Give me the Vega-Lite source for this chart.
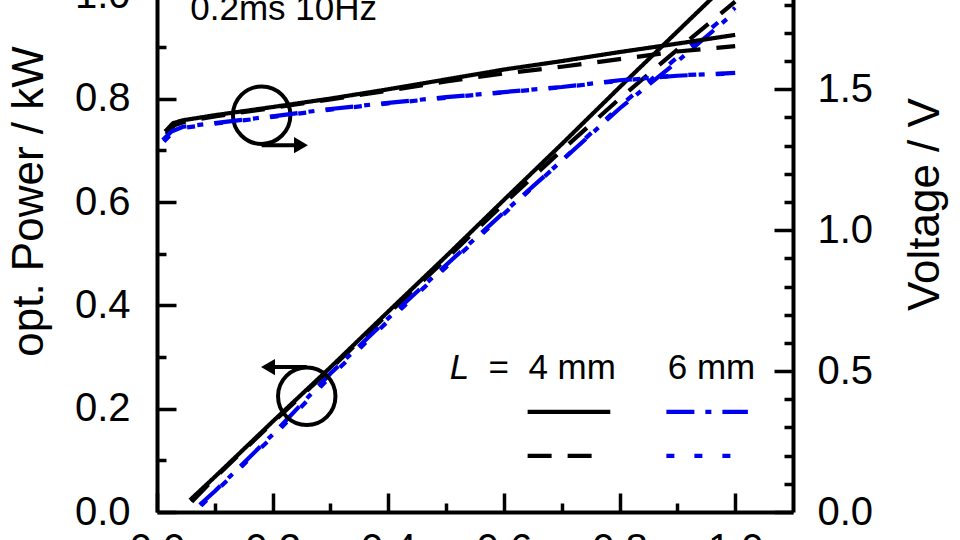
{
  "$schema": "https://vega.github.io/schema/vega-lite/v6.json",
  "width": 636,
  "height": 620,
  "autosize": "none",
  "padding": {"left": 157, "top": -108, "right": 167, "bottom": 28},
  "background": "white",
  "datasets": {
    "curves": [
      {"s": "4 mm a", "q": "P", "x": 0.057, "y": 0.023},
      {"s": "4 mm a", "q": "P", "x": 0.1, "y": 0.068},
      {"s": "4 mm a", "q": "P", "x": 0.2, "y": 0.175},
      {"s": "4 mm a", "q": "P", "x": 0.3, "y": 0.28},
      {"s": "4 mm a", "q": "P", "x": 0.4, "y": 0.388},
      {"s": "4 mm a", "q": "P", "x": 0.5, "y": 0.495},
      {"s": "4 mm a", "q": "P", "x": 0.6, "y": 0.604},
      {"s": "4 mm a", "q": "P", "x": 0.7, "y": 0.712},
      {"s": "4 mm a", "q": "P", "x": 0.8, "y": 0.822},
      {"s": "4 mm a", "q": "P", "x": 0.9, "y": 0.93},
      {"s": "4 mm a", "q": "P", "x": 1.0, "y": 1.038},
      {"s": "4 mm b", "q": "P", "x": 0.06, "y": 0.02},
      {"s": "4 mm b", "q": "P", "x": 0.1, "y": 0.066},
      {"s": "4 mm b", "q": "P", "x": 0.2, "y": 0.173},
      {"s": "4 mm b", "q": "P", "x": 0.3, "y": 0.277},
      {"s": "4 mm b", "q": "P", "x": 0.4, "y": 0.384},
      {"s": "4 mm b", "q": "P", "x": 0.5, "y": 0.49},
      {"s": "4 mm b", "q": "P", "x": 0.6, "y": 0.597},
      {"s": "4 mm b", "q": "P", "x": 0.7, "y": 0.7},
      {"s": "4 mm b", "q": "P", "x": 0.8, "y": 0.8},
      {"s": "4 mm b", "q": "P", "x": 0.9, "y": 0.895},
      {"s": "4 mm b", "q": "P", "x": 1.0, "y": 0.988},
      {"s": "6 mm a", "q": "P", "x": 0.074, "y": 0.014},
      {"s": "6 mm a", "q": "P", "x": 0.1, "y": 0.04},
      {"s": "6 mm a", "q": "P", "x": 0.2, "y": 0.15},
      {"s": "6 mm a", "q": "P", "x": 0.3, "y": 0.268},
      {"s": "6 mm a", "q": "P", "x": 0.4, "y": 0.375},
      {"s": "6 mm a", "q": "P", "x": 0.5, "y": 0.478},
      {"s": "6 mm a", "q": "P", "x": 0.6, "y": 0.58},
      {"s": "6 mm a", "q": "P", "x": 0.7, "y": 0.68},
      {"s": "6 mm a", "q": "P", "x": 0.8, "y": 0.781},
      {"s": "6 mm a", "q": "P", "x": 0.9, "y": 0.872},
      {"s": "6 mm a", "q": "P", "x": 1.0, "y": 0.968},
      {"s": "6 mm b", "q": "P", "x": 0.076, "y": 0.012},
      {"s": "6 mm b", "q": "P", "x": 0.1, "y": 0.038},
      {"s": "6 mm b", "q": "P", "x": 0.2, "y": 0.146},
      {"s": "6 mm b", "q": "P", "x": 0.3, "y": 0.262},
      {"s": "6 mm b", "q": "P", "x": 0.4, "y": 0.37},
      {"s": "6 mm b", "q": "P", "x": 0.5, "y": 0.474},
      {"s": "6 mm b", "q": "P", "x": 0.6, "y": 0.577},
      {"s": "6 mm b", "q": "P", "x": 0.7, "y": 0.68},
      {"s": "6 mm b", "q": "P", "x": 0.8, "y": 0.785},
      {"s": "6 mm b", "q": "P", "x": 0.9, "y": 0.88},
      {"s": "6 mm b", "q": "P", "x": 1.0, "y": 0.976},
      {"s": "4 mm a", "q": "V", "x": 0.014, "y": 1.35},
      {"s": "4 mm a", "q": "V", "x": 0.028, "y": 1.38},
      {"s": "4 mm a", "q": "V", "x": 0.045, "y": 1.39},
      {"s": "4 mm a", "q": "V", "x": 0.1, "y": 1.408},
      {"s": "4 mm a", "q": "V", "x": 0.2, "y": 1.437},
      {"s": "4 mm a", "q": "V", "x": 0.3, "y": 1.467},
      {"s": "4 mm a", "q": "V", "x": 0.4, "y": 1.5},
      {"s": "4 mm a", "q": "V", "x": 0.5, "y": 1.535},
      {"s": "4 mm a", "q": "V", "x": 0.6, "y": 1.57},
      {"s": "4 mm a", "q": "V", "x": 0.7, "y": 1.6},
      {"s": "4 mm a", "q": "V", "x": 0.8, "y": 1.632},
      {"s": "4 mm a", "q": "V", "x": 0.9, "y": 1.662},
      {"s": "4 mm a", "q": "V", "x": 1.0, "y": 1.693},
      {"s": "4 mm b", "q": "V", "x": 0.016, "y": 1.34},
      {"s": "4 mm b", "q": "V", "x": 0.03, "y": 1.372},
      {"s": "4 mm b", "q": "V", "x": 0.05, "y": 1.386},
      {"s": "4 mm b", "q": "V", "x": 0.1, "y": 1.404},
      {"s": "4 mm b", "q": "V", "x": 0.2, "y": 1.434},
      {"s": "4 mm b", "q": "V", "x": 0.3, "y": 1.464},
      {"s": "4 mm b", "q": "V", "x": 0.4, "y": 1.495},
      {"s": "4 mm b", "q": "V", "x": 0.5, "y": 1.528},
      {"s": "4 mm b", "q": "V", "x": 0.6, "y": 1.556},
      {"s": "4 mm b", "q": "V", "x": 0.7, "y": 1.58},
      {"s": "4 mm b", "q": "V", "x": 0.8, "y": 1.607},
      {"s": "4 mm b", "q": "V", "x": 0.9, "y": 1.634},
      {"s": "4 mm b", "q": "V", "x": 1.0, "y": 1.653},
      {"s": "6 mm a", "q": "V", "x": 0.01, "y": 1.32},
      {"s": "6 mm a", "q": "V", "x": 0.025, "y": 1.35},
      {"s": "6 mm a", "q": "V", "x": 0.045, "y": 1.367},
      {"s": "6 mm a", "q": "V", "x": 0.1, "y": 1.38},
      {"s": "6 mm a", "q": "V", "x": 0.2, "y": 1.404},
      {"s": "6 mm a", "q": "V", "x": 0.3, "y": 1.43},
      {"s": "6 mm a", "q": "V", "x": 0.4, "y": 1.452},
      {"s": "6 mm a", "q": "V", "x": 0.5, "y": 1.472},
      {"s": "6 mm a", "q": "V", "x": 0.6, "y": 1.49},
      {"s": "6 mm a", "q": "V", "x": 0.7, "y": 1.508},
      {"s": "6 mm a", "q": "V", "x": 0.8, "y": 1.532},
      {"s": "6 mm a", "q": "V", "x": 0.9, "y": 1.548},
      {"s": "6 mm a", "q": "V", "x": 1.0, "y": 1.558},
      {"s": "6 mm b", "q": "V", "x": 0.012, "y": 1.315},
      {"s": "6 mm b", "q": "V", "x": 0.03, "y": 1.352},
      {"s": "6 mm b", "q": "V", "x": 0.05, "y": 1.364},
      {"s": "6 mm b", "q": "V", "x": 0.1, "y": 1.378},
      {"s": "6 mm b", "q": "V", "x": 0.2, "y": 1.402},
      {"s": "6 mm b", "q": "V", "x": 0.3, "y": 1.428},
      {"s": "6 mm b", "q": "V", "x": 0.4, "y": 1.45},
      {"s": "6 mm b", "q": "V", "x": 0.5, "y": 1.47},
      {"s": "6 mm b", "q": "V", "x": 0.6, "y": 1.489},
      {"s": "6 mm b", "q": "V", "x": 0.7, "y": 1.507},
      {"s": "6 mm b", "q": "V", "x": 0.8, "y": 1.53},
      {"s": "6 mm b", "q": "V", "x": 0.9, "y": 1.55},
      {"s": "6 mm b", "q": "V", "x": 1.0, "y": 1.556}
    ],
    "circles": [
      {"x": 0.181, "y": 0.768},
      {"x": 0.259, "y": 0.224}
    ],
    "arrows": [
      {"dir": "right", "x": 0.181, "x2": 0.238, "head": 0.249, "y": 0.71},
      {"dir": "left", "x": 0.259, "x2": 0.2, "head": 0.192, "y": 0.2805}
    ],
    "labels": [
      {"t": "0.2ms 10Hz", "x": 0.219, "y": 0.952},
      {"t": "=", "x": 0.591, "y": 0.257},
      {"t": "4 mm", "x": 0.718, "y": 0.257},
      {"t": "6 mm", "x": 0.959, "y": 0.257}
    ],
    "key": [
      {"s": "4 mm a", "x": 0.641, "x2": 0.784, "y": 0.355},
      {"s": "6 mm a", "x": 0.881, "x2": 1.022, "y": 0.355},
      {"s": "4 mm b", "x": 0.641, "x2": 0.77, "y": 0.199},
      {"s": "6 mm b", "x": 0.881, "x2": 1.0, "y": 0.199}
    ]
  },
  "layer": [
    {
      "data": {"name": "curves"},
      "transform": [{"filter": "datum.q == 'P'"}],
      "mark": {"type": "line", "strokeWidth": 4.2, "clip": false},
      "encoding": {
        "x": {
          "field": "x",
          "type": "quantitative",
          "scale": {"domain": [0, 1.1], "nice": false},
          "axis": {
            "orient": "bottom",
            "title": null,
            "values": [0, 0.2, 0.4, 0.6, 0.8, 1.0],
            "format": ".1f",
            "tickSize": -19,
            "labelPadding": 36
          }
        },
        "y": {
          "field": "y",
          "type": "quantitative",
          "scale": {"domain": [0, 1.2], "nice": false},
          "axis": {
            "orient": "left",
            "title": "opt. Power / kW",
            "values": [0, 0.2, 0.4, 0.6, 0.8, 1.0, 1.2],
            "format": ".1f",
            "tickSize": -19,
            "labelPadding": 46,
            "titleAngle": 270,
            "titleBaseline": "alphabetic",
            "titleX": -115,
            "titleY": 309
          }
        },
        "color": {
          "field": "s",
          "type": "nominal",
          "scale": {"domain": ["4 mm a", "4 mm b", "6 mm a", "6 mm b"], "range": ["#000000", "#000000", "#0000f0", "#0000f0"]},
          "legend": null
        },
        "strokeDash": {
          "field": "s",
          "type": "nominal",
          "scale": {"domain": ["4 mm a", "4 mm b", "6 mm a", "6 mm b"], "range": [[1, 0], [24, 16], [28, 11, 6, 11], [8, 20]]},
          "legend": null
        }
      }
    },
    {
      "data": {"name": "circles"},
      "mark": {"type": "point", "shape": "circle", "filled": false, "stroke": "black", "strokeWidth": 4, "size": 3300, "opacity": 1},
      "encoding": {
        "x": {"field": "x", "type": "quantitative", "scale": {"domain": [0, 1.1], "nice": false}, "axis": null},
        "y": {
          "field": "y",
          "type": "quantitative",
          "scale": {"domain": [0, 1.2], "nice": false},
          "axis": {
            "orient": "left",
            "title": null,
            "values": [0.1, 0.3, 0.5, 0.7, 0.9, 1.1],
            "labels": false,
            "domain": false,
            "tickSize": -9
          }
        }
      }
    },
    {
      "data": {"name": "arrows"},
      "mark": {"type": "rule", "stroke": "black", "strokeWidth": 4},
      "encoding": {
        "x": {"field": "x", "type": "quantitative", "scale": {"domain": [0, 1.1], "nice": false}, "axis": null},
        "x2": {"field": "x2"},
        "y": {"field": "y", "type": "quantitative", "scale": {"domain": [0, 1.2], "nice": false}, "axis": null}
      }
    },
    {
      "data": {"name": "arrows"},
      "mark": {"type": "point", "filled": true, "color": "black", "size": 260, "opacity": 1},
      "encoding": {
        "x": {"field": "head", "type": "quantitative", "scale": {"domain": [0, 1.1], "nice": false}, "axis": null},
        "y": {"field": "y", "type": "quantitative", "scale": {"domain": [0, 1.2], "nice": false}, "axis": null},
        "shape": {
          "field": "dir",
          "type": "nominal",
          "scale": {"domain": ["right", "left"], "range": ["triangle-right", "triangle-left"]},
          "legend": null
        }
      }
    },
    {
      "data": {"name": "labels"},
      "mark": {"type": "text", "font": "Liberation Sans", "fontSize": 35, "align": "center", "baseline": "alphabetic", "color": "black"},
      "encoding": {
        "x": {"field": "x", "type": "quantitative", "scale": {"domain": [0, 1.1], "nice": false}, "axis": null},
        "y": {"field": "y", "type": "quantitative", "scale": {"domain": [0, 1.2], "nice": false}, "axis": null},
        "text": {"field": "t"}
      }
    },
    {
      "data": {"values": [{"t": "L", "x": 0.523, "y": 0.257}]},
      "mark": {"type": "text", "font": "Liberation Sans", "fontSize": 35, "fontStyle": "italic", "align": "center", "baseline": "alphabetic", "color": "black"},
      "encoding": {
        "x": {"field": "x", "type": "quantitative", "scale": {"domain": [0, 1.1], "nice": false}, "axis": null},
        "y": {"field": "y", "type": "quantitative", "scale": {"domain": [0, 1.2], "nice": false}, "axis": null},
        "text": {"field": "t"}
      }
    },
    {
      "data": {"name": "curves"},
      "transform": [{"filter": "datum.q == 'V'"}],
      "mark": {"type": "line", "strokeWidth": 4.2, "clip": false},
      "encoding": {
        "x": {
          "field": "x",
          "type": "quantitative",
          "scale": {"domain": [0, 1.1], "nice": false},
          "axis": {
            "orient": "bottom",
            "title": null,
            "values": [0.1, 0.3, 0.5, 0.7, 0.9],
            "labels": false,
            "domain": false,
            "tickSize": -9
          }
        },
        "y": {
          "field": "y",
          "type": "quantitative",
          "scale": {"domain": [0, 2.2], "nice": false},
          "axis": {
            "orient": "right",
            "title": "Voltage / V",
            "values": [0, 0.5, 1.0, 1.5, 2.0],
            "format": ".1f",
            "tickSize": -19,
            "labelPadding": 43,
            "titleAngle": 270,
            "titleBaseline": "alphabetic",
            "titleX": 145,
            "titleY": 312
          }
        },
        "color": {
          "field": "s",
          "type": "nominal",
          "scale": {"domain": ["4 mm a", "4 mm b", "6 mm a", "6 mm b"], "range": ["#000000", "#000000", "#0000f0", "#0000f0"]},
          "legend": null
        },
        "strokeDash": {
          "field": "s",
          "type": "nominal",
          "scale": {"domain": ["4 mm a", "4 mm b", "6 mm a", "6 mm b"], "range": [[1, 0], [24, 16], [28, 11, 6, 11], [8, 20]]},
          "legend": null
        }
      }
    },
    {
      "data": {"name": "key"},
      "mark": {"type": "rule", "strokeWidth": 4.2},
      "encoding": {
        "x": {"field": "x", "type": "quantitative", "scale": {"domain": [0, 1.1], "nice": false}, "axis": null},
        "x2": {"field": "x2"},
        "y": {
          "field": "y",
          "type": "quantitative",
          "scale": {"domain": [0, 2.2], "nice": false},
          "axis": {
            "orient": "right",
            "title": null,
            "values": [0.1, 0.2, 0.3, 0.4, 0.6, 0.7, 0.8, 0.9, 1.1, 1.2, 1.3, 1.4, 1.6, 1.7, 1.8, 1.9, 2.1, 2.2],
            "labels": false,
            "domain": false,
            "tickSize": -9
          }
        },
        "color": {
          "field": "s",
          "type": "nominal",
          "scale": {"domain": ["4 mm a", "4 mm b", "6 mm a", "6 mm b"], "range": ["#000000", "#000000", "#0000f0", "#0000f0"]},
          "legend": null
        },
        "strokeDash": {
          "field": "s",
          "type": "nominal",
          "scale": {"domain": ["4 mm a", "4 mm b", "6 mm a", "6 mm b"], "range": [[1, 0], [24, 16], [28, 11, 6, 11], [8, 20]]},
          "legend": null
        }
      }
    }
  ],
  "resolve": {"scale": {"y": "independent"}, "axis": {"x": "independent", "y": "independent"}},
  "config": {
    "view": {"stroke": null},
    "axis": {
      "grid": false,
      "domainColor": "black",
      "domainWidth": 4,
      "tickColor": "black",
      "tickWidth": 3.5,
      "labelFont": "Liberation Sans",
      "labelFontSize": 40,
      "labelColor": "black",
      "labelFlush": false,
      "labelOverlap": false,
      "labelBound": false,
      "titleFont": "Liberation Sans",
      "titleFontSize": 44,
      "titleFontWeight": "normal",
      "titleColor": "black"
    }
  }
}
